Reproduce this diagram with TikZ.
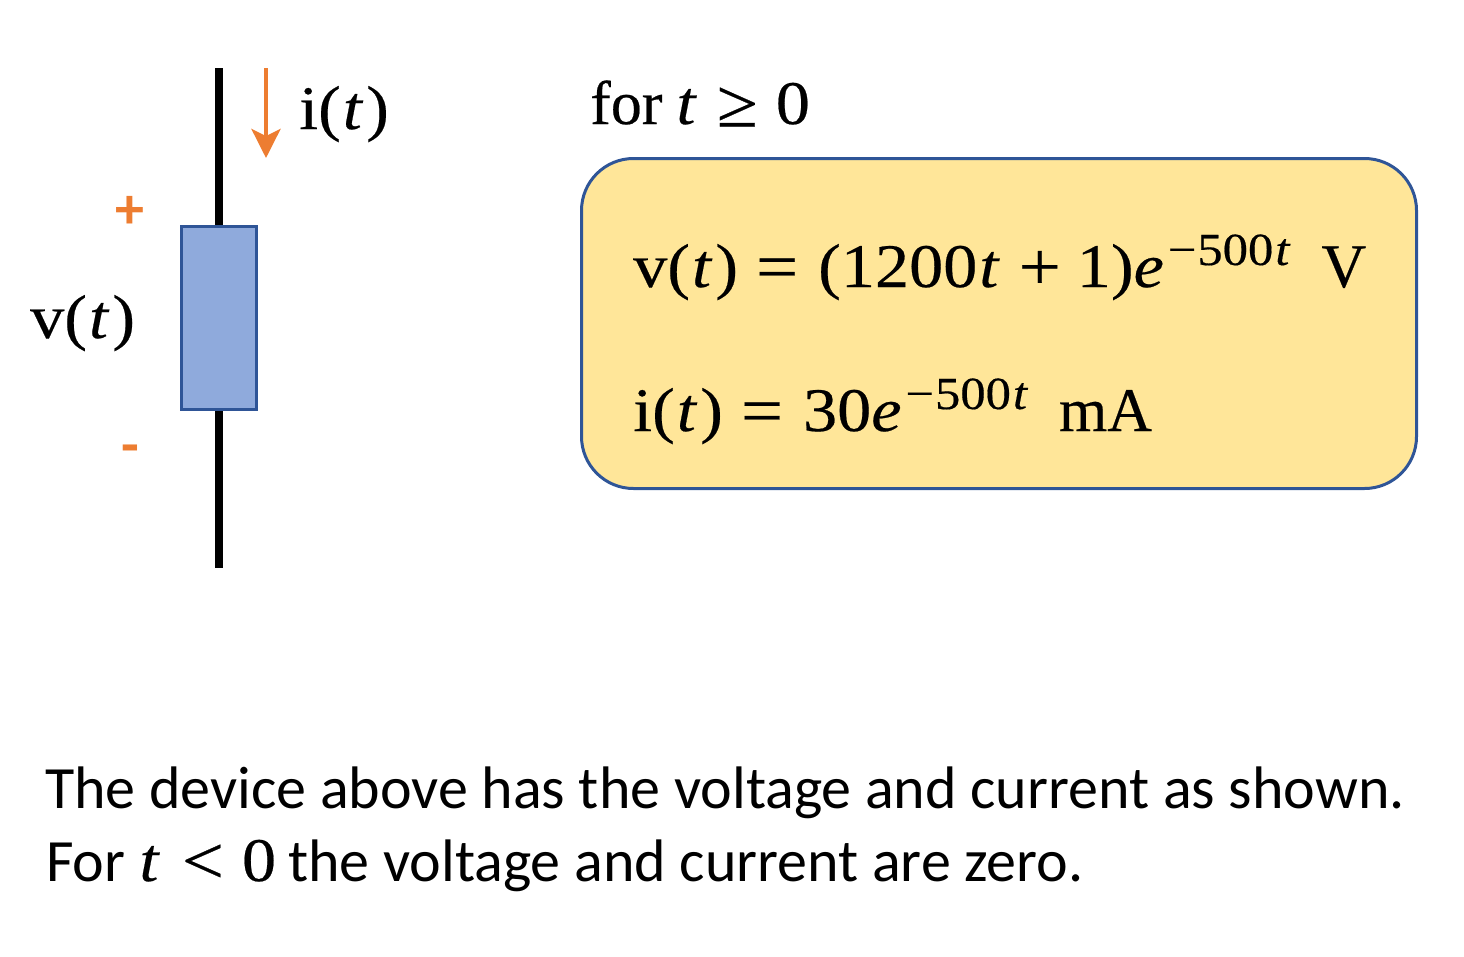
\documentclass[tikz,border=0pt]{standalone}
\usepackage{fontspec}
\usetikzlibrary{arrows.meta}
\setmainfont[FakeStretch=1.1,FakeBold=0.35]{Liberation Serif}
\newfontfamily\plainserif[FakeBold=0.35]{Liberation Serif}
\newfontfamily\bodyfont{Carlito}
\definecolor{devblue}{HTML}{8FAADC}
\definecolor{arrorange}{HTML}{ED7D31}
\definecolor{boxfill}{HTML}{FFE699}
\definecolor{boxline}{HTML}{2F5597}
\newcommand{\tvar}{\hspace{2pt}\textit{t}\hspace{3pt}}
\newcommand{\gap}[1]{\hspace{#1pt}}
\newcommand{\opsym}[1]{\raisebox{-2.5pt}{\fontsize{68}{70}\selectfont #1}}
\newcommand{\expo}{\gap{4}\raisebox{22pt}{\fontsize{46}{48}\selectfont −\gap{1}500\gap{2}\textit{t}}}
\begin{document}
\begin{tikzpicture}[x=1pt,y=-1pt,
  wire/.style={line width=8.5pt,black},
  mathtxt/.style={inner sep=0pt,anchor=base west,font=\fontsize{62}{64}\selectfont},
  bodytxt/.style={inner sep=0pt,anchor=base west,font=\bodyfont\fontsize{60}{64}\selectfont},
  sign/.style={inner sep=0pt,text=arrorange,font=\bodyfont\bfseries\fontsize{58}{58}\selectfont}]
\useasboundingbox (0,0) rectangle (1464,956);
\coordinate (top) at (219,68);
\coordinate (bot) at (219,568);
\node[draw=boxline,fill=devblue,line width=3pt,minimum width=75pt,minimum height=183pt,inner sep=0pt] (dev) at (219,318) {};
\draw[wire] (top) -- (dev.north);
\draw[wire] (dev.south) -- (bot);
\coordinate (a1) at (266,68);
\coordinate (a2) at (266,158);
\draw[arrorange,line width=4.3pt,-{Stealth[length=29pt,width=29pt,inset=7pt]}] (a1) -- (a2);
\node[mathtxt] (il) at (299,129) {i(\tvar)};
\node[mathtxt] (vl) at (30,338) {v(\tvar)};
\node[sign] (plus) at (130,212) {+};
\node[sign] (minus) at (130,455) {-};
\node[mathtxt] (for) at (590,124) {{\plainserif for}\gap{14}\textit{t}\gap{20}\opsym{≥}\gap{18}0};
\node[draw=boxline,fill=boxfill,line width=3pt,rounded corners=52pt,minimum width=835pt,minimum height=330pt,inner sep=0pt] (box) at (999,323.5) {};
\node[mathtxt] (ve) at (633,287) {v(\tvar)\gap{18}\opsym{=}\gap{20}(1200\tvar\gap{16}\opsym{+}\gap{16}1)\textit{e}\expo\gap{31}{\plainserif V}};
\node[mathtxt] (ie) at (633,431) {i(\tvar)\gap{18}\opsym{=}\gap{20}30\textit{e}\expo\gap{31}{\plainserif mA}};
\node[bodytxt] (l1) at (45,808) {The device above has the voltage and current as shown.};
\node[bodytxt] (l2) at (46,881) {For\gap{14}{\rmfamily\fontsize{62}{64}\selectfont\textit{t}\gap{22}\opsym{<}\gap{18}0}\gap{12}the voltage and current are zero.};
\end{tikzpicture}
\end{document}
